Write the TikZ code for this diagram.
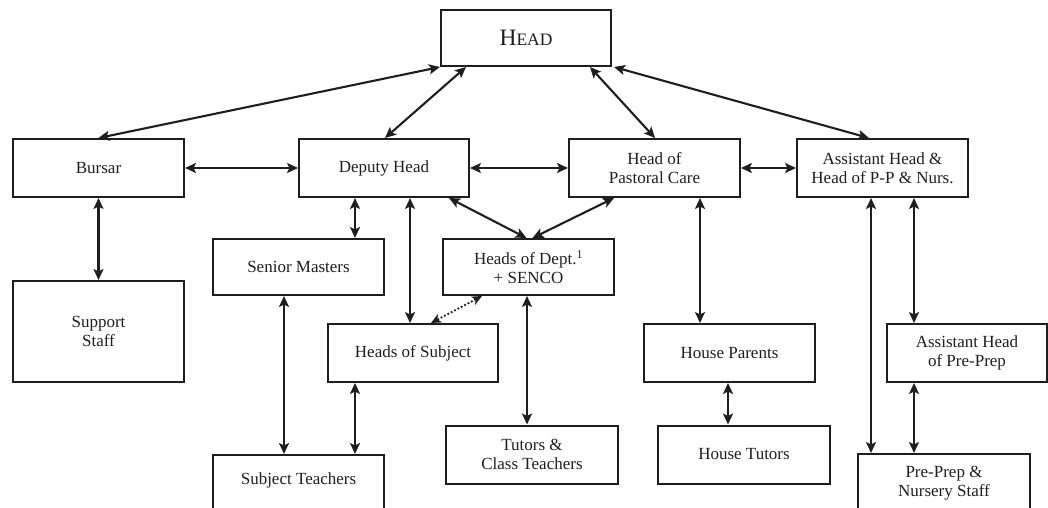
\documentclass[tikz,border=0pt]{standalone}
\usepackage{fontspec}
\setmainfont{Liberation Serif}
\usetikzlibrary{arrows.meta}
\definecolor{ink}{HTML}{1E1E1E}
\tikzset{
  box/.style={draw=ink, line width=2pt, rectangle, minimum width=171pt, minimum height=58pt,
    inner sep=2pt, align=center, text=ink, font=\fontsize{17}{19}\selectfont},
  arr/.style={draw=ink, line width=2.1pt, {Stealth[length=11pt,width=10pt,inset=2.5pt]}-{Stealth[length=11pt,width=10pt,inset=2.5pt]}},
  darr/.style={draw=ink, line width=1.8pt, dotted, {Stealth[length=10pt,width=9pt,inset=2.5pt]}-{Stealth[length=10pt,width=9pt,inset=2.5pt]}}
}
\begin{document}
\begin{tikzpicture}[x=1pt,y=-1pt]
\useasboundingbox (0,0) rectangle (1048,507);
\clip (0,0) rectangle (1048,507);
\node[box, minimum width=170pt, minimum height=56pt] (head) at (526,38)
  {{\fontsize{23.5}{25}\selectfont H}{\fontsize{17.5}{19}\selectfont EAD}};
\node[box] (bursar) at (98.5,168) {Bursar};
\node[box, minimum width=170pt] (deputy) at (384,168) {Deputy Head};
\node[box] (pastoral) at (654.5,168) {Head of\\Pastoral Care};
\node[box] (assistant) at (882.5,168) {Assistant Head \&\\Head of P-P \& Nurs.};
\node[box, minimum height=56pt] (senior) at (298.5,267) {Senior Masters};
\node[box, minimum height=56pt] (hod) at (528.5,267) {Heads of Dept.\textsuperscript{1}\\+ SENCO};
\node[box, minimum height=101pt] (support) at (98.5,331.5) {Support\\Staff};
\node[box, minimum width=170pt] (hos) at (413,353) {Heads of Subject};
\node[box] (hp) at (729.5,353) {House Parents};
\node[box, minimum width=160pt] (ahpp) at (967,353) {Assistant Head\\of Pre-Prep};
\node[box, text depth=10pt] (st) at (298.5,484) {Subject Teachers};
\node[box, minimum width=172pt] (tutors) at (532,454.5) {Tutors \&\\Class Teachers};
\node[box, minimum width=172pt] (ht) at (744,454.5) {House Tutors};
\node[box, minimum width=172pt] (ppns) at (944,483) {Pre-Prep \&\\Nursery Staff};

\draw[arr] (head.south west) -- (bursar.north);
\draw[arr] ([xshift=26pt]head.south west) -- ([xshift=87pt]deputy.north west);
\draw[arr] ([xshift=-22pt]head.south east) -- ([xshift=87pt]pastoral.north west);
\draw[arr] ([xshift=2pt]head.south east) -- ([xshift=73pt]assistant.north west);
\draw[arr] (bursar.east) -- (deputy.west);
\draw[arr] (deputy.east) -- (pastoral.west);
\draw[arr] (pastoral.east) -- (assistant.west);
\draw[arr] (bursar.south) -- (support.north);
\draw[arr] ([xshift=57pt]deputy.south west) -- ([xshift=143pt]senior.north west);
\draw[arr] ([xshift=112pt]deputy.south west) -- ([xshift=83pt]hos.north west);
\draw[arr] ([xshift=-21pt]deputy.south east) -- ([xshift=-2pt]hod.north);
\draw[arr] ([xshift=46pt]pastoral.south west) -- ([xshift=4pt]hod.north);
\draw[darr] ([xshift=40pt]hod.south west) -- ([xshift=104pt]hos.north west);
\draw[arr] ([xshift=85pt]hod.south west) -- ([xshift=82pt]tutors.north west);
\draw[arr] ([xshift=72pt]senior.south west) -- ([xshift=72pt]st.north west);
\draw[arr] ([xshift=28pt]hos.south west) -- ([xshift=143pt]st.north west);
\draw[arr] ([xshift=132pt]pastoral.south west) -- ([xshift=57pt]hp.north west);
\draw[arr] ([xshift=85pt]hp.south west) -- ([xshift=71pt]ht.north west);
\draw[arr] ([xshift=75pt]assistant.south west) -- ([xshift=14pt]ppns.north west);
\draw[arr] ([xshift=118pt]assistant.south west) -- ([xshift=28pt]ahpp.north west);
\draw[arr] ([xshift=28pt]ahpp.south west) -- ([xshift=57pt]ppns.north west);
\end{tikzpicture}
\end{document}
